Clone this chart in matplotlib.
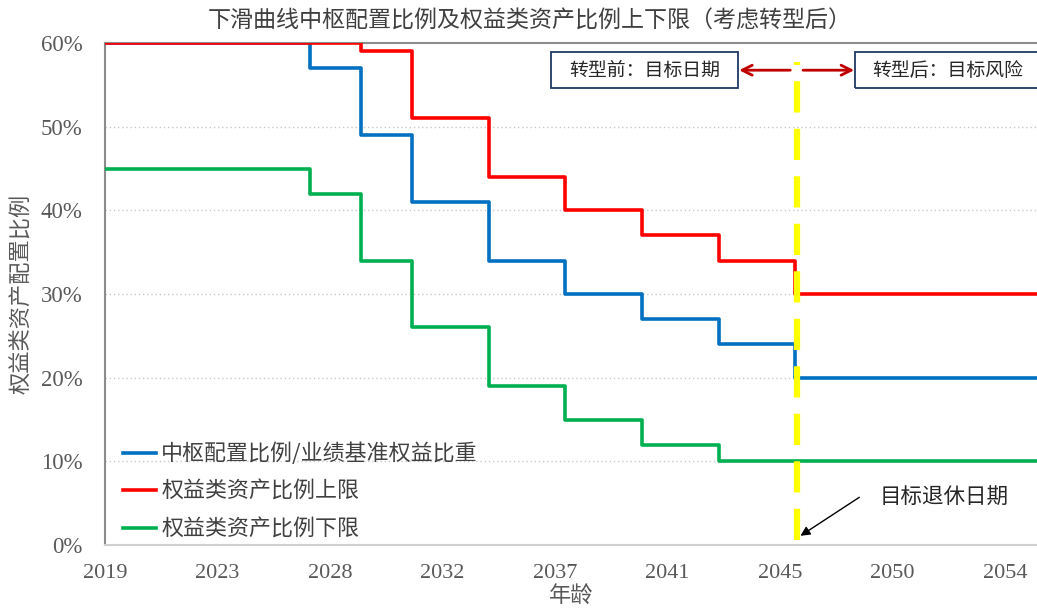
import matplotlib
matplotlib.use("Agg")
import matplotlib.pyplot as plt
from matplotlib.patches import Rectangle
from matplotlib.ticker import FuncFormatter

plt.rcParams['font.family'] = ['Noto Sans CJK SC', 'DejaVu Sans']

# ---- data ----
years = [2019, 2027, 2029, 2031, 2034, 2037, 2040, 2043, 2046, 2056]
center = [60, 57, 49, 41, 34, 30, 27, 24, 20, 20]
upper = [60, 60, 59, 51, 44, 40, 37, 34, 30, 30]
lower = [45, 42, 34, 26, 19, 15, 12, 10, 10, 10]
tick_pos = [2019.0, 2023.4, 2027.8, 2032.2, 2036.6, 2041.0, 2045.4, 2049.8, 2054.2]
tick_labels = ['2019', '2023', '2028', '2032', '2037', '2041', '2045', '2050', '2054']
y_ticks = [0, 10, 20, 30, 40, 50, 60]
labels = ['中枢配置比例/业绩基准权益比重', '权益类资产比例上限', '权益类资产比例下限']
retire_year = 2046.05

title = '下滑曲线中枢配置比例及权益类资产比例上下限（考虑转型后）'

fig = plt.figure(figsize=(10.37, 6.11), dpi=100)
ax = fig.add_axes([105/1037, 66/611, 1 - 105/1037, (545-43)/611])

serif = 'Liberation Serif'
gray = '#595959'

l1, = ax.plot(years, center, drawstyle='steps-post', color='#0070C0', lw=2.6, zorder=3)
l2, = ax.plot(years, upper, drawstyle='steps-post', color='#FF0000', lw=2.6, zorder=4)
l3, = ax.plot(years, lower, drawstyle='steps-post', color='#00B050', lw=2.6, zorder=3)

ax.set_xlim(2019, 2055.45)
ax.set_ylim(0, 60)
ax.set_xticks(tick_pos)
ax.set_xticklabels(tick_labels, fontfamily=serif, fontsize=16, color=gray)
ax.set_yticks(y_ticks)
ax.yaxis.set_major_formatter(FuncFormatter(lambda v, p: f'{int(v)}%'))
for t in ax.get_yticklabels():
    t.set_fontfamily(serif)
ax.tick_params(axis='y', labelsize=16.5, labelcolor=gray, length=0, pad=16)
ax.tick_params(axis='x', length=0, pad=14)

for v in y_ticks[1:-1]:
    ax.axhline(v, color='#C8C8C8', lw=1, ls=(0, (1, 2)), zorder=1)

ax.spines['right'].set_visible(False)
ax.spines['left'].set_color('#8C8C8C')
ax.spines['left'].set_linewidth(1.5)
ax.spines['top'].set_color('#8C8C8C')
ax.spines['top'].set_linewidth(1.5)
ax.spines['bottom'].set_color('#D0D0D0')
ax.spines['bottom'].set_linewidth(1.5)

ax.set_ylabel('权益类资产配置比例', fontsize=16, color=gray, labelpad=6)
ax.set_xlabel('年龄', fontsize=16, color=gray, labelpad=1)

fig.text(0.511, 0.965, title, ha='center', va='center', fontsize=16.6, color='#404040')

# yellow dashed retirement line
ax.plot([retire_year, retire_year], [0.6, 57.7], color='#FFFF00', lw=4.5,
        ls=(0, (5, 2.6)), zorder=5)

# boxes
ax.add_patch(Rectangle((2036.45, 54.6), 7.3, 4.3, fill=False, edgecolor='#1F3864',
                       lw=1.3, zorder=6, clip_on=False))
ax.add_patch(Rectangle((2048.35, 54.6), 8.0, 4.3, fill=False, edgecolor='#1F3864',
                       lw=1.3, zorder=6, clip_on=False))
ax.text(2040.1, 56.75, '转型前：目标日期', ha='center', va='center', fontsize=13.6,
        color='#262626', zorder=7)
ax.text(2051.95, 56.75, '转型后：目标风险', ha='center', va='center', fontsize=13.6,
        color='#262626', zorder=7, clip_on=False)

ax.annotate('', xy=(2043.8, 56.75), xytext=(2045.8, 56.75),
            arrowprops=dict(arrowstyle='->', color='#C00000', lw=2, mutation_scale=18,
                            shrinkA=0, shrinkB=0), zorder=7)
ax.annotate('', xy=(2048.3, 56.75), xytext=(2046.3, 56.75),
            arrowprops=dict(arrowstyle='->', color='#C00000', lw=2, mutation_scale=18,
                            shrinkA=0, shrinkB=0), zorder=7)

ax.text(2049.3, 5.6, '目标退休日期', fontsize=15.5, color='#262626', va='center',
        ha='left', zorder=7)
ax.annotate('', xy=(2046.2, 1.1), xytext=(2048.5, 5.7),
            arrowprops=dict(arrowstyle='-|>', color='black', lw=1, mutation_scale=14,
                            shrinkA=0, shrinkB=0), zorder=7)

leg = ax.legend([l1, l2, l3], labels, loc='lower left', bbox_to_anchor=(0.005, -0.018),
                frameon=False, fontsize=15.8, handlelength=1.5, handletextpad=0.25,
                labelspacing=0.72, borderaxespad=0.2)
for t in leg.get_texts():
    t.set_color('#404040')

fig.savefig('out.png', dpi=100)
